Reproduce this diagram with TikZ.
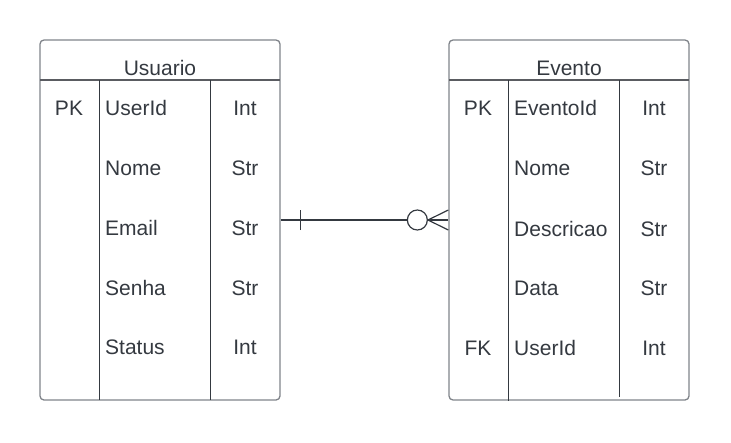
\documentclass[tikz,border=0pt]{standalone}
\usepackage{fontspec}
\setmainfont{Liberation Sans}
\usepackage{tikz}
\definecolor{border}{RGB}{128, 132, 138}
\definecolor{rule}{RGB}{52, 57, 64}
\definecolor{ink}{RGB}{52, 57, 64}

\tikzset{
  tablebox/.style={draw=border, line width=1.3pt, rounded corners=4pt,
    minimum width=240pt, minimum height=360pt, inner sep=0pt},
  headrule/.style={draw=border!70!black, line width=1.1pt},
  colrule/.style={draw=rule, line width=1pt},
  cell/.style={inner sep=0pt, text height=15pt, text depth=0pt},
  title/.style={cell},
  key/.style={cell},
  field/.style={cell, anchor=west},
  kind/.style={cell},
  link/.style={draw=rule, line width=1.2pt},
  nought/.style={circle, draw=rule, line width=1.2pt, minimum size=20pt, inner sep=0pt}
}

\begin{document}
\begin{tikzpicture}[x=1pt, y=-1pt, font=\fontsize{21}{25}\selectfont, text=ink]
  \useasboundingbox (0, 0) rectangle (731, 442);

  % One
  \pgfmathsetmacro{\dx}{0}

  \node [tablebox] (usuario) at (160 + \dx, 220) {};
  \draw [headrule] (40 + \dx, 80) -- +(240, 0);
  \draw [colrule] (99 + \dx, 80) -- (99 + \dx, 400);
  \draw [colrule] (210 + \dx, 80) -- (210 + \dx, 400);
  \node [title] (usuario title) at (160 + \dx, 68) {Usuario};
  \node [key] (usuario pk) at (69 + \dx, 108) {PK};
  \foreach \y/\name/\type [count=\i] in
      {108/UserId/Int, 168/Nome/Str, 228/Email/Str, 288/Senha/Str, 347/Status/Int} {
    \node [field] (usuario f\i) at (105 + \dx, \y) {\name};
    \node [kind] (usuario k\i) at (245 + \dx, \y) {\type};
  }

  % Two
  \pgfmathsetmacro{\dx}{409}

  \node [tablebox] (evento) at (160 + \dx, 220) {};
  \draw [headrule] (40 + \dx, 80) -- +(240, 0);
  \draw [colrule] (99 + \dx, 80) -- (99 + \dx, 401);
  \draw [colrule] (210 + \dx, 80) -- (210 + \dx, 397);
  \node [title] (evento title) at (160 + \dx, 68) {Evento};
  \node [key] (evento pk) at (69 + \dx, 108) {PK};
  \node [key] (evento fk) at (69 + \dx, 348) {FK};
  \foreach \y/\name/\type [count=\i] in
      {108/EventoId/Int, 168/Nome/Str, 229/Descricao/Str, 288/Data/Str, 348/UserId/Int} {
    \node [field] (evento f\i) at (105 + \dx, \y) {\name};
    \node [kind] (evento k\i) at (245 + \dx, \y) {\type};
  }

  % one to zero-or-many
  \node [nought] (zero) at ([xshift=-31pt]evento.west) {};
  \draw [link] (usuario.east) -- (zero.west);
  \draw [link] ([xshift=20pt, yshift=-10pt]usuario.east) -- ([xshift=20pt, yshift=10pt]usuario.east);
  \draw [link] ([yshift=10pt]evento.west) -- (zero.east) -- ([yshift=-10pt]evento.west);
  \draw [link] (zero.east) -- (evento.west);
\end{tikzpicture}
\end{document}
